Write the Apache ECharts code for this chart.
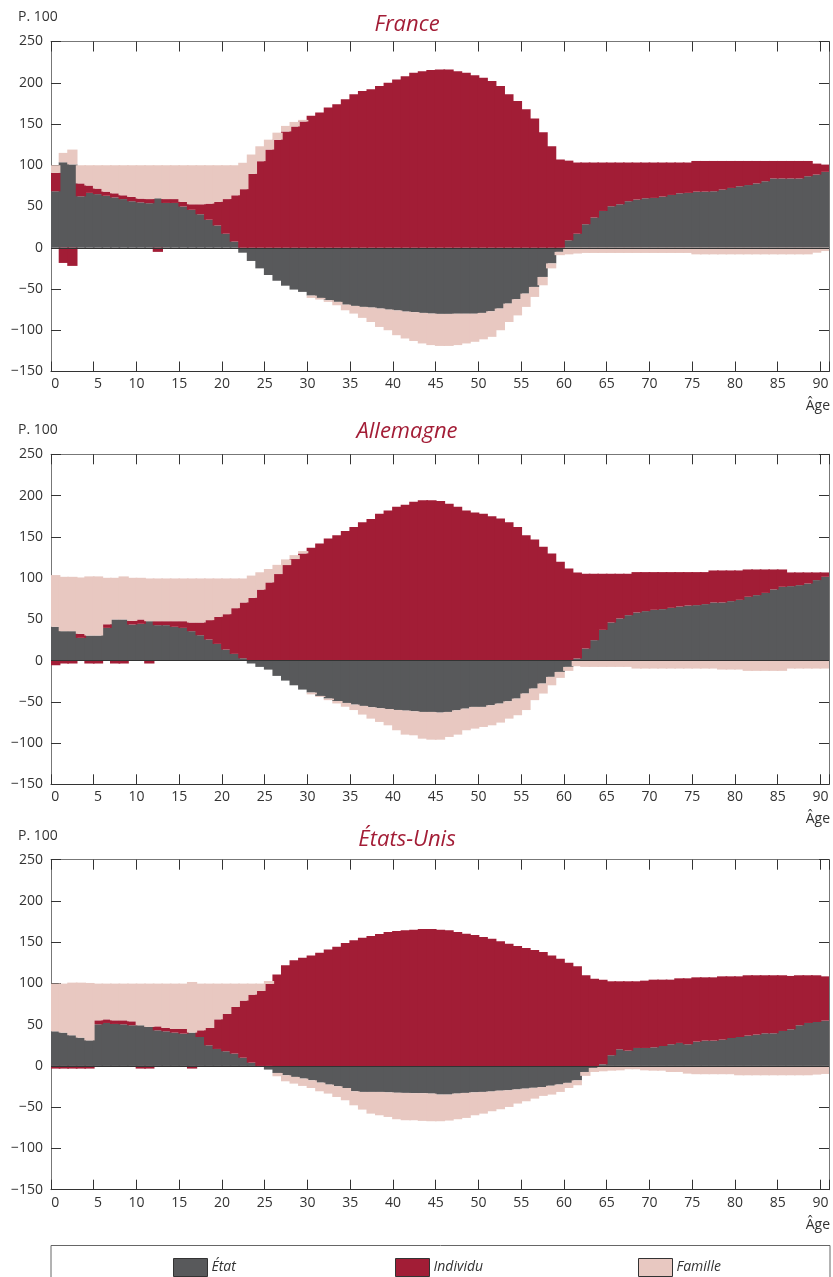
<!DOCTYPE html>
<html><head><meta charset="utf-8">
<script src="https://cdn.jsdelivr.net/npm/echarts@6/dist/echarts.min.js"></script>
<style>html,body{margin:0;padding:0;background:#fff}#c{width:833px;height:1277px}</style>
</head><body><div id="c"></div>
<script>
const ages = [0,1,2,3,4,5,6,7,8,9,10,11,12,13,14,15,16,17,18,19,20,21,22,23,24,25,26,27,28,29,30,31,32,33,34,35,36,37,38,39,40,41,42,43,44,45,46,47,48,49,50,51,52,53,54,55,56,57,58,59,60,61,62,63,64,65,66,67,68,69,70,71,72,73,74,75,76,77,78,79,80,81,82,83,84,85,86,87,88,89,90];

const franceEtat = [68.5,103.6,101,62.4,66.5,65,63,61,59,56.4,
 55,54,60,54.3,54.3,50,46,40.6,34,27,
 17,7.5,-6,-16,-25,-33,-40,-46,-50.7,-53.5,
 -58,-60.8,-63.6,-65.6,-69,-70.5,-71.7,-72.5,-73.7,-75,
 -76,-77.4,-78,-79,-79.8,-80.2,-80.2,-80,-80,-80,
 -79,-77,-73.7,-67.7,-62.4,-55.6,-47.5,-35.4,-19,-5,
 9,17,28.5,36.6,44.6,50.3,52.7,56.4,58.4,60,
 60.4,62,64,66,66.5,68,68,68.5,70.5,72.5,
 74.5,76,78,80.6,84,84,84,84,86.7,88.7,
 92];
const franceIndividu = [22.2,-18.4,-22,15.6,8.9,6.7,5,5,4.6,5.2,
 4.6,5,-5,4.7,4.7,5.6,6.7,12.1,19.5,28.6,
 42,56.1,71,89.5,105,119,131,141,147,153,
 160,164,170,174,180,186,190,192,196,200,
 204,208,212,214,215.6,216,216,214,212,209,
 206,202,196,186,178,168,156.6,140,123,107,
 96.6,86.3,74.8,66.7,58.7,53,50.6,46.9,44.9,43.3,
 42.9,41.3,39.3,37.3,36.8,37.2,37.2,36.7,34.7,32.7,
 30.7,29.2,27.2,24.6,21.2,21.2,21.2,21.2,18.5,13.3,
 8.8];
const franceFamille = [9.3,11.4,18,22,24.6,28.3,32,34,36.4,38.4,
 40.4,41,40,41,41,44.4,47.3,47.3,46.5,44.4,
 41,36.4,32,23.5,18,12,8.5,6.7,5.5,2,
 -2.8,-2,-2,-4.1,-6.8,-9.3,-13.3,-17.5,-22.3,-25,
 -30,-32.6,-35,-37,-38.2,-38.8,-38.8,-38,-36,-34,
 -32,-31,-26.3,-22.3,-19.6,-16.1,-12.1,-10.1,-6,-4,
 -8,-7,-6.3,-6.3,-6.3,-6.3,-6.3,-6.3,-6.3,-6.3,
 -6.3,-6.3,-6.3,-6.3,-6.3,-8,-8,-8,-8,-8,
 -8,-8,-8,-8,-8,-8,-8,-8,-8,-6,
 -4];

const allemagneEtat = [40.9,35.6,35.6,27.5,30.3,30.3,39.6,49.8,49.8,43.7,
 44.5,47.7,42.9,42.9,40.9,39.6,35.6,30.7,25.5,20.2,
 13.3,8.1,2.8,-3.6,-7.7,-11,-18.6,-24.3,-30,-35.2,
 -38.8,-42.9,-46.1,-49,-51.4,-53.4,-55,-56.6,-57.8,-58.7,
 -59.9,-60.7,-61.5,-62.3,-62.3,-63.1,-62.3,-60.3,-58.3,-56.2,
 -56.2,-54.2,-52.2,-49.4,-46.1,-40,-34,-27.9,-19.8,-13.8,
 -7.7,2.4,14.6,24.7,37.2,46.1,51,55,58.3,59.9,
 61.5,62.3,63.9,65.5,66.7,67.2,68.4,70.4,70.4,72,
 73.6,77.3,79.3,82,86.2,89.4,90.2,91.4,93.4,97.5,
 101.5];
const allemagneIndividu = [-5.7,-3.6,-3.6,4.9,-3.6,-3.6,4.4,-3.6,-3.6,4.3,
 5.3,-3.6,4.8,4.8,6.8,8.1,10.5,15.4,23.5,32.8,
 42.9,55.4,67.6,76,86,94.7,104.8,115.7,123,129.9,
 136.7,142,148,152,157,162,167.5,171.5,178,182,
 186.5,189,192.6,194.2,194.2,193.4,190,186.5,182,179.6,
 178,175,172.3,167.5,162,152,146.8,138,129.9,119.7,
 111.7,104.4,90.6,80.5,68,59.1,54.2,50.2,48.9,47.3,
 45.7,44.9,43.3,41.7,40.5,40,38.8,38.8,38.8,37.2,
 35.6,33.1,31.1,28.4,24.2,21,16.6,15.4,13.4,9.3,
 5.3];
const allemagneFamille = [62.7,65.9,65.9,68.3,71.7,71.7,56.3,50.5,52.2,52.3,
 50.5,51.8,51.8,51.8,51.8,51.8,53.4,53.4,50.5,46.5,
 43.3,36,29.1,27,21,16.3,11.2,6.9,4.8,2.8,
 -2.2,-1.1,-1.9,-3,-4.6,-6.6,-10.5,-13.8,-16.6,-19.8,
 -24.6,-29.1,-29.1,-32.4,-33.6,-32.8,-30.3,-29.5,-26.2,-26.3,
 -24.3,-24.3,-23,-21,-20.2,-20,-14,-12.1,-10.2,-7.2,
 -4.8,-6.9,-7.7,-7.7,-7.7,-7.7,-7.7,-7.7,-9.7,-9.7,
 -9.7,-9.7,-9.7,-9.7,-9.7,-9.7,-9.7,-9.7,-10.9,-10.9,
 -10.9,-12.5,-12.5,-12.5,-12.5,-12.5,-9.7,-9.7,-9.7,-9.7,
 -9.7];

const usEtat = [42,40.4,37.2,34.3,31,50.5,52.1,50.9,50.5,49.3,
 49.3,47.3,43.2,42,40.4,39.2,40.4,35.1,25,20.6,
 17.8,15,10,4,0,-4.4,-8.5,-11.3,-13.3,-15.3,
 -17.4,-20.2,-22.6,-24.6,-26.7,-30.7,-31.5,-31.5,-31.5,-32,
 -32.5,-32.7,-33,-33,-33.5,-34.7,-34.7,-33.5,-32.7,-32,
 -31.5,-31,-30,-29.5,-28.5,-27.5,-26.5,-25.5,-24,-22.5,
 -20.5,-17.5,-7.3,-2.4,2,13,20.2,18.6,21.8,21.8,
 22.6,24.2,26.3,27.9,26.3,29.5,30.7,30.7,31.9,33.9,
 35.1,36.8,38,39.6,39.6,42.4,44.4,49.3,52.1,53.3,
 54.9];
const usIndividu = [-3.2,-3.2,-3.2,-3.2,-3.2,4.8,4.4,4.4,4.8,4.8,
 -3.2,-3.2,4.8,4,4.4,5.6,-3.2,8.1,21,35.9,
 45.2,56.5,69.2,82.4,90.9,99.4,110.7,122,128,131.3,
 134,137.3,141,144.6,149,152.3,155.5,157.5,160,162.4,
 163.6,164.4,165.2,166,166,165.2,164.4,162.4,160.3,158.7,
 156.3,154.3,151,148.2,145.4,143,140.5,138,134,130,
 125.2,120.8,109.9,105.8,102.6,89.6,82.4,84,80.8,81.6,
 82,80.4,78.3,78.3,79.9,77.9,76.7,76.7,76.7,74.7,
 73.5,73.1,71.9,70.3,70.3,67.5,64.7,60.6,57.8,56.6,
 53.7];
const usFamille = [57.8,59.4,63.8,66.7,69.6,44.5,43.3,44.5,44.5,45.7,
 50.5,52.5,51.8,53.8,55,55,61.4,56.6,53.8,43.3,
 36.8,28.3,20.6,13.4,8.9,3.6,-4,-7.3,-8.1,-8.9,
 -9.3,-10.5,-10.9,-13,-14.9,-17,-21.4,-26.3,-28.3,-29.8,
 -32.1,-33.1,-32.8,-33.6,-33.5,-32.3,-31.5,-31.1,-30.3,-27.8,
 -26.3,-23.9,-22.5,-20.2,-17.1,-15.3,-13.1,-10.8,-10.7,-9,
 -6.2,-5.9,-4.7,-4.9,-6.5,-5.7,-5.3,-4,-4,-5.3,
 -5.7,-5.7,-7.3,-7.3,-9.3,-10,-10,-10,-10,-10,
 -11.3,-11.3,-11.3,-11.3,-11.3,-11.3,-11.3,-11.3,-11.3,-10.5,
 -9.7];

const countries = ['France', 'Allemagne', 'États-Unis'];
const seriesNames = ['État', 'Individu', 'Famille'];

const FONT = "'Open Sans', 'DejaVu Sans', sans-serif";
const COLORS = ['#58595b', '#a21d36', '#e8c8c1'];
const TITLE_COLOR = '#a31d36';
const TXT = '#333';

const panels = [
  {name: countries[0], data: [franceEtat, franceIndividu, franceFamille], top: 41.5, titleY: 25},
  {name: countries[1], data: [allemagneEtat, allemagneIndividu, allemagneFamille], top: 454.3, titleY: 431.5},
  {name: countries[2], data: [usEtat, usIndividu, usFamille], top: 859.7, titleY: 840}
];
const H = 330;

const grid = [], xAxis = [], yAxis = [], series = [], graphic = [];
const tickInt = (idx) => idx % 5 === 0;

panels.forEach((p, i) => {
  grid.push({left: 51, right: 4, top: p.top, height: H});
  xAxis.push({
    type: 'category', gridIndex: i, data: ages, boundaryGap: true, position: 'bottom',
    axisLine: {show: true, onZero: false, lineStyle: {color: '#333', width: 1}},
    axisTick: {show: true, inside: true, length: 10, interval: tickInt, lineStyle: {color: '#333'}},
    axisLabel: {
      show: true, interval: tickInt, margin: 6, color: TXT, fontSize: 14, fontFamily: FONT,
      formatter: (v) => String(v).length === 1 ? String(v) : '{d|' + v + '}',
      rich: {d: {padding: [0, 8.5, 0, 0], fontSize: 14, color: TXT, fontFamily: FONT}}
    },
    splitLine: {show: false}
  });
  xAxis.push({
    type: 'category', gridIndex: i, data: ages, boundaryGap: true, position: 'top',
    axisLine: {show: true, onZero: false, lineStyle: {color: '#777', width: 1}},
    axisTick: {show: true, inside: true, length: 10, interval: tickInt, lineStyle: {color: '#333'}},
    axisLabel: {show: false}, splitLine: {show: false}
  });
  yAxis.push({
    type: 'value', gridIndex: i, min: -150, max: 250, interval: 50, position: 'left',
    axisLine: {show: true, onZero: false, lineStyle: {color: '#777', width: 1}},
    axisTick: {show: true, inside: true, length: 10, lineStyle: {color: '#333'}},
    axisLabel: {show: true, margin: 8, color: TXT, fontSize: 14, fontFamily: FONT,
      formatter: (v) => v < 0 ? '\u2212' + Math.abs(v) : String(v)},
    splitLine: {show: false}
  });
  yAxis.push({
    type: 'value', gridIndex: i, min: -150, max: 250, interval: 50, position: 'right',
    axisLine: {show: true, onZero: false, lineStyle: {color: '#777', width: 1}},
    axisTick: {show: true, inside: true, length: 10, lineStyle: {color: '#333'}},
    axisLabel: {show: false}, splitLine: {show: false}
  });
  p.data.forEach((arr, k) => {
    const s = {
      type: 'bar', name: seriesNames[k], xAxisIndex: 2 * i, yAxisIndex: 2 * i,
      stack: 'p' + i, data: arr, barWidth: '120%', barGap: '-100%', clip: true,
      itemStyle: {color: COLORS[k]},
      emphasis: {disabled: true}, animation: false
    };
    if (k === 2) {
      s.markLine = {
        silent: true, symbol: ['none', 'none'], label: {show: false}, animation: false,
        lineStyle: {color: '#333', width: 1, type: 'solid'}, data: [{yAxis: 0}]
      };
    }
    series.push(s);
  });
  graphic.push({type: 'text', left: 18, top: p.top - 31,
    style: {text: 'P. 100', fontSize: 14, fontFamily: FONT, fill: TXT}});
  graphic.push({type: 'text', x: 407, y: p.titleY,
    style: {text: p.name, fontSize: 22, fontStyle: 'italic', fontFamily: FONT, fill: TITLE_COLOR,
      textAlign: 'center', textVerticalAlign: 'middle'}});
  graphic.push({type: 'text', x: 830, y: p.top + H + 35,
    style: {text: 'Âge', fontSize: 14, fontFamily: FONT, fill: TXT,
      textAlign: 'right', textVerticalAlign: 'middle'}});
});

graphic.push({type: 'rect', shape: {x: 51, y: 1245.5, width: 779, height: 60},
  style: {fill: 'none', stroke: '#666', lineWidth: 1}});

const legendPos = [168, 390, 633];
const legend = seriesNames.map((n, k) => ({
  data: [n], left: legendPos[k], top: 1253, icon: 'rect', itemWidth: 34, itemHeight: 18,
  itemGap: 0, selectedMode: false,
  itemStyle: {borderColor: '#333', borderWidth: 1},
  textStyle: {fontSize: 14, fontStyle: 'italic', fontFamily: FONT, color: TXT, padding: [0, 0, 0, -1]}
}));

const chart = echarts.init(document.getElementById('c'), null, {renderer: 'canvas'});
chart.setOption({
  animation: false, backgroundColor: '#fff',
  grid, xAxis, yAxis, series, legend, graphic
});
</script></body></html>
